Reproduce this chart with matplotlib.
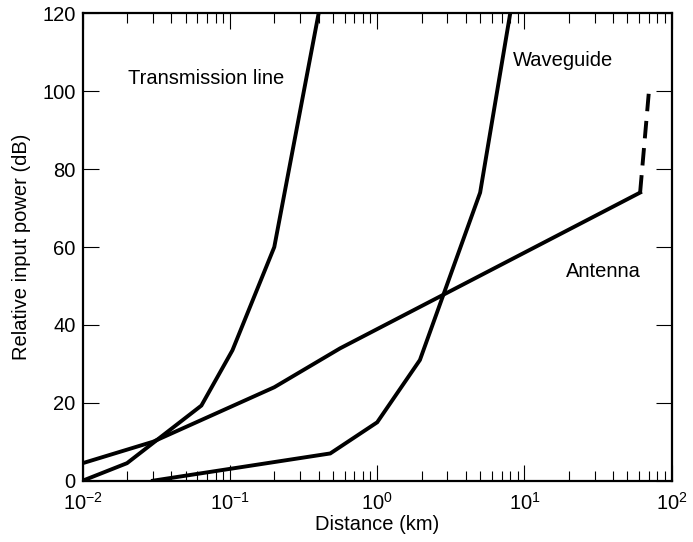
import matplotlib
matplotlib.use("Agg")
import matplotlib.pyplot as plt
from matplotlib.ticker import LogLocator, FixedLocator, NullFormatter

plt.rcParams['font.family'] = ['Liberation Sans', 'DejaVu Sans']
plt.rcParams['mathtext.fontset'] = 'custom'
plt.rcParams['mathtext.rm'] = 'Liberation Sans'
plt.rcParams['mathtext.it'] = 'Liberation Sans:italic'
plt.rcParams['mathtext.bf'] = 'Liberation Sans:bold'

# ----------------------
# Data
# ----------------------
tline_km = [0.01, 0.02, 0.064, 0.104, 0.2, 0.4]
tline_db = [0, 4.5, 19.3, 33.5, 60, 120]

wguide_km = [0.03, 0.48, 1.0, 1.95, 5.0, 8.0]
wguide_db = [0, 7, 15, 31, 74, 120]

antenna_km = [0.01, 0.03, 0.2, 0.56, 61]
antenna_db = [4.5, 10, 24, 34, 74]

antenna_dash_km = [61, 70]
antenna_dash_db = [74, 100]

y_ticks = [0, 20, 40, 60, 80, 100, 120]

# ----------------------
# Figure
# ----------------------
fig = plt.figure(figsize=(6.93, 5.42), dpi=100)
ax = fig.add_axes([0.1193, 0.1131, 0.8500, 0.8620])

lw = 2.8
ax.plot(tline_km, tline_db, color='black', lw=lw, solid_joinstyle='miter')
ax.plot(wguide_km, wguide_db, color='black', lw=lw, solid_joinstyle='miter')
ax.plot(antenna_km, antenna_db, color='black', lw=lw, solid_joinstyle='miter')
ax.plot(antenna_dash_km, antenna_dash_db, color='black', lw=lw, ls=(0, (4.5, 2.5)))

ax.set_xscale('log')
ax.set_xlim(1e-2, 1e2)
ax.set_ylim(0, 120)
ax.yaxis.set_major_locator(FixedLocator(y_ticks))
ax.xaxis.set_major_locator(LogLocator(base=10, numticks=10))
ax.xaxis.set_minor_locator(LogLocator(base=10, subs=range(2, 10), numticks=20))
ax.xaxis.set_minor_formatter(NullFormatter())

for s in ax.spines.values():
    s.set_linewidth(1.6)

fs = 14.5
ax.tick_params(which='major', direction='in', length=11.5, width=0.8,
               top=True, right=True, labelsize=fs)
ax.tick_params(which='minor', direction='in', length=7, width=0.8,
               top=True, right=True)
ax.tick_params(axis='x', which='major', pad=8)
ax.tick_params(axis='y', which='major', pad=5)

ax.set_xlabel('Distance (km)', fontsize=fs, labelpad=1)
ax.set_ylabel('Relative input power (dB)', fontsize=fs, labelpad=8)

ax.text(0.0202, 103.2, 'Transmission line', fontsize=fs, va='center', ha='left')
ax.text(8.3, 108, 'Waveguide', fontsize=fs, va='center', ha='left')
ax.text(19, 53.8, 'Antenna', fontsize=fs, va='center', ha='left')

fig.savefig('out.png', dpi=100)
